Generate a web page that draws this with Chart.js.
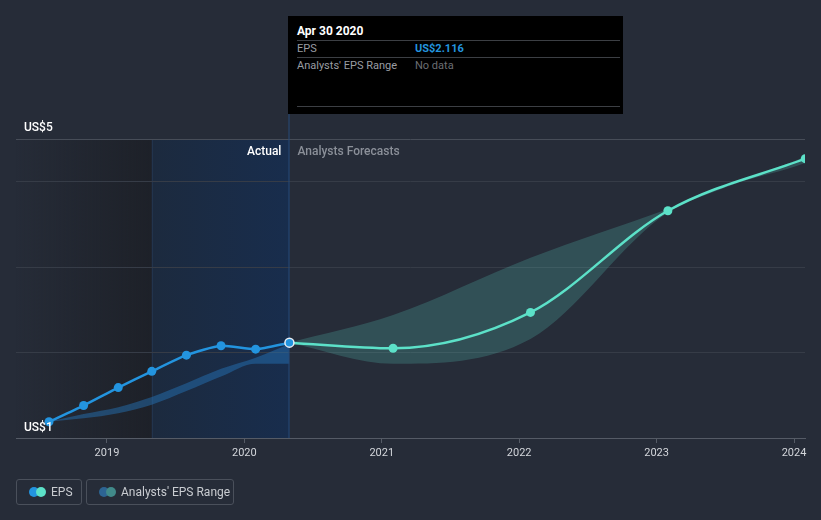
<!DOCTYPE html>
<html>
<head>
<meta charset="utf-8">
<script src="https://cdn.jsdelivr.net/npm/chart.js@4/dist/chart.umd.min.js"></script>
<style>
  html, body { margin:0; padding:0; background:#262c38; }
  body { width:821px; height:520px; position:relative; overflow:hidden; font-family: Roboto, "Open Sans", sans-serif; }
  #wrap { position:absolute; left:0; top:0; width:821px; height:520px; }
  #tip { position:absolute; left:288px; top:16px; width:335px; height:98px; background:#000; color:#fff; font-size:11px; }
  #tip .title { position:absolute; left:9px; top:8px; font-weight:bold; font-size:12px; color:#fff; }
  #tip .sep { position:absolute; left:9px; width:323px; height:1px; background:#3c3f44; }
  #tip .lab { position:absolute; left:9px; color:#9a9da3; }
  #tip .val { position:absolute; left:127px; }
  .leg { position:absolute; top:479px; height:26px; border:1px solid #4a505b; border-radius:3px; color:#c9ccd1; font-size:12px; box-sizing:border-box; }
  .leg .dots { position:absolute; left:12px; top:7px; width:20px; height:10px; }
  .leg .d { position:absolute; top:0; width:10px; height:10px; border-radius:50%; }
  .leg .t { position:absolute; top:5px; }
</style>
</head>
<body>
<div id="wrap"><canvas id="c" width="821" height="520"></canvas></div>
<div id="tip">
  <div class="title">Apr 30 2020</div>
  <div class="sep" style="top:24px"></div>
  <div class="lab" style="top:26px">EPS</div>
  <div class="val" style="top:26px;color:#2394df;font-weight:bold">US$2.116</div>
  <div class="sep" style="top:41px"></div>
  <div class="lab" style="top:43px">Analysts' EPS Range</div>
  <div class="val" style="top:43px;color:#6b6e73">No data</div>
  <div class="sep" style="top:90px"></div>
</div>
<div class="leg" style="left:16px;width:66px">
  <div class="dots"><div class="d" style="left:0;background:#2394df"></div><div class="d" style="left:7px;background:#5ce1c8"></div></div>
  <div class="t" style="left:34px">EPS</div>
</div>
<div class="leg" style="left:86px;width:148px">
  <div class="dots"><div class="d" style="left:0;background:#2d6493"></div><div class="d" style="left:7px;background:#418a8a"></div></div>
  <div class="t" style="left:34px">Analysts' EPS Range</div>
</div>
<script>
// ---- data ----
const actualDates   = ['2018-07-31','2018-10-31','2019-01-31','2019-04-30','2019-07-31','2019-10-31','2020-01-31','2020-04-30'];
const actualEPS     = [1.19, 1.38, 1.59, 1.78, 1.97, 2.08, 2.04, 2.116];
const pastRangeLow  = [1.19, 1.23, 1.29, 1.39, 1.55, 1.72, 1.87, 1.87];
const pastRangeHigh = [1.19, 1.28, 1.36, 1.48, 1.64, 1.81, 1.94, 2.10];

const forecastDates = ['2020-04-30','2021-01-31','2022-01-31','2023-01-31','2024-01-31'];
const forecastEPS   = [2.116, 2.05, 2.47, 3.66, 4.27];
const forecastLow   = [2.116, 1.87, 2.16, 3.64, 4.22];
const forecastHigh  = [2.116, 2.44, 3.11, 3.68, 4.29];

const xTickYears = [2019, 2020, 2021, 2022, 2023, 2024];
const yTopLabel = 'US$5';
const yBottomLabel = 'US$1';

// ---- helpers ----
function yearFrac(s) {
  const d = new Date(s + 'T00:00:00Z');
  const y = d.getUTCFullYear();
  const start = Date.UTC(y, 0, 1), end = Date.UTC(y + 1, 0, 1);
  return y + (d.getTime() - start) / (end - start);
}
const pts = (dates, vals) => dates.map((d, i) => ({ x: yearFrac(d), y: vals[i] }));

const X_MIN = 2018.338, X_MAX = 2024.08;
const Y_MIN = 1, Y_MAX = 4.5;
const actualStart = yearFrac('2019-04-30');
const actualEnd = yearFrac('2020-04-30');

const bgPlugin = {
  id: 'bg',
  beforeDraw(chart) {
    const { ctx, chartArea: a, scales: { x } } = chart;
    const x0 = a.left, x1 = x.getPixelForValue(actualStart), x2 = x.getPixelForValue(actualEnd);
    ctx.save();
    let g = ctx.createLinearGradient(x0, 0, x1, 0);
    g.addColorStop(0, 'rgba(28,31,38,0.0)');
    g.addColorStop(1, 'rgba(28,31,38,0.85)');
    ctx.fillStyle = g;
    ctx.fillRect(x0, a.top, x1 - x0, a.bottom - a.top);
    g = ctx.createLinearGradient(x1, 0, x2, 0);
    g.addColorStop(0, '#1c2a3e');
    g.addColorStop(1, '#182d4d');
    ctx.fillStyle = g;
    ctx.fillRect(x1, a.top, x2 - x1, a.bottom - a.top);
    ctx.fillStyle = '#22344d';
    ctx.fillRect(Math.round(x1), a.top, 1, a.bottom - a.top);
    ctx.restore();
  },
  afterDatasetsDraw(chart) {
    const { ctx, chartArea: a, scales: { x, y } } = chart;
    const x2 = x.getPixelForValue(actualEnd);
    ctx.save();
    ctx.fillStyle = '#264a78';
    ctx.fillRect(Math.round(x2) - 0.5, 114, 1, a.bottom - 114);
    // hovered point
    ctx.beginPath();
    ctx.arc(x2, y.getPixelForValue(actualEPS[actualEPS.length - 1]), 4.5, 0, Math.PI * 2);
    ctx.fillStyle = '#2394df';
    ctx.fill();
    ctx.lineWidth = 1.5;
    ctx.strokeStyle = '#e8eef5';
    ctx.stroke();
    ctx.font = '500 12px Roboto, sans-serif';
    ctx.textBaseline = 'middle';
    ctx.textAlign = 'right';
    ctx.fillStyle = '#ffffff';
    ctx.fillText('Actual', x2 - 8, 152);
    ctx.textAlign = 'left';
    ctx.fillStyle = '#8b9099';
    ctx.fillText('Analysts Forecasts', x2 + 8, 152);
    ctx.fillStyle = '#ffffff';
    ctx.fillText(yTopLabel, a.left + 8, y.getPixelForValue(Y_MAX) - 11);
    ctx.fillText(yBottomLabel, a.left + 8, y.getPixelForValue(Y_MIN) - 10);
    ctx.restore();
  }
};

const bandBase = { pointRadius: 0, borderWidth: 0, cubicInterpolationMode: 'monotone', order: 2 };

new Chart(document.getElementById('c'), {
  type: 'line',
  data: {
    datasets: [
      { ...bandBase, data: pts(actualDates, pastRangeHigh), fill: '+1', backgroundColor: 'rgba(38,120,190,0.45)' },
      { ...bandBase, data: pts(actualDates, pastRangeLow), fill: false },
      { ...bandBase, data: pts(forecastDates, forecastHigh), fill: '+1', backgroundColor: 'rgba(92,210,195,0.22)' },
      { ...bandBase, data: pts(forecastDates, forecastLow), fill: false },
      { data: pts(forecastDates, forecastEPS), borderColor: '#5ce1c8', backgroundColor: '#5ce1c8', borderWidth: 2.5,
        pointRadius: [0, 4.5, 4.5, 4.5, 4.5], pointBorderWidth: 0, cubicInterpolationMode: 'monotone', fill: false, order: 1 },
      { data: pts(actualDates, actualEPS), borderColor: '#2394df', backgroundColor: '#2394df', borderWidth: 2.5,
        pointRadius: [4.5, 4.5, 4.5, 4.5, 4.5, 4.5, 4.5, 0], pointBorderWidth: 0, tension: 0.2, fill: false, order: 0 }
    ]
  },
  options: {
    responsive: false,
    animation: false,
    events: [],
    layout: { padding: { left: 16, right: 16, top: 139, bottom: 0 } },
    plugins: { legend: { display: false }, tooltip: { enabled: false } },
    scales: {
      x: {
        type: 'linear', min: X_MIN, max: X_MAX,
        afterBuildTicks: s => { s.ticks = xTickYears.map(v => ({ value: v })); },
        afterFit: s => { s.height = 82; },
        ticks: { color: '#d3d6db', font: { family: 'Roboto', size: 11 }, padding: 4, callback: v => String(v), maxRotation: 0, autoSkip: false },
        grid: { drawOnChartArea: false, drawTicks: true, tickLength: 5, color: '#555b66' },
        border: { display: true, color: '#555b66', width: 1 }
      },
      y: {
        type: 'linear', min: Y_MIN, max: Y_MAX,
        afterBuildTicks: s => { s.ticks = [2, 3, 4, 4.5].map(v => ({ value: v })); },
        afterFit: s => { s.width = 0; },
        ticks: { display: false },
        grid: { drawTicks: false, color: ctx => ctx.tick && ctx.tick.value === 4.5 ? '#474d58' : '#363c47' },
        border: { display: false }
      }
    }
  },
  plugins: [bgPlugin]
});
</script>
</body>
</html>
